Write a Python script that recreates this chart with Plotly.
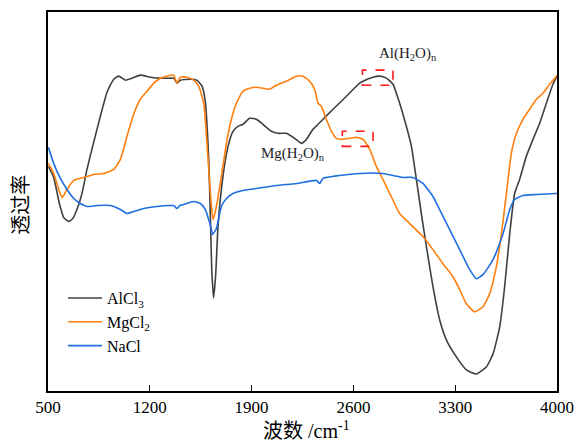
import plotly.graph_objects as go

# Wavenumber (cm^-1) and transmittance (a.u.)
alcl3_x = [503, 539, 580, 608, 642, 670, 699, 732, 768, 814, 860, 906, 952, 986, 1032, 1078, 1135, 1204, 1273, 1342,
           1364, 1387, 1410, 1479, 1524, 1559, 1582, 1605, 1617, 1626, 1639, 1653, 1669, 1703, 1738, 1772, 1806, 1841,
           1887, 1933, 1978, 2036, 2081, 2139, 2196, 2242, 2277, 2322, 2357, 2391, 2460, 2552, 2643, 2666, 2735, 2781,
           2827, 2872, 2918, 2964, 2999, 3033, 3067, 3102, 3147, 3193, 3239, 3308, 3377, 3446, 3514, 3560, 3606, 3640,
           3675, 3709, 3743, 3789, 3835, 3881, 3927, 3972, 4000]
alcl3_y = [224, 213, 186, 173, 169, 172, 181, 196, 221, 248, 274, 298, 311, 314, 310, 312, 315, 313, 312, 312,
           312, 307, 310, 311, 310, 304, 288, 231, 171, 121, 93, 116, 164, 214, 244, 259, 264, 266,
           272, 271, 266, 259, 257, 257, 252, 247, 251, 261, 266, 271, 281, 294, 307, 309, 313, 314,
           312, 306, 287, 264, 244, 211, 177, 144, 104, 71, 51, 34, 21, 17, 24, 37, 64, 104,
           157, 197, 211, 234, 251, 267, 287, 306, 314]

mgcl2_x = [503, 539, 574, 596, 608, 631, 677, 745, 814, 883, 952, 998, 1043, 1089, 1135, 1181, 1227, 1273, 1342, 1364,
           1387, 1410, 1456, 1502, 1536, 1571, 1593, 1617, 1635, 1658, 1692, 1727, 1761, 1795, 1841, 1887, 1933, 1978,
           2024, 2070, 2139, 2208, 2253, 2299, 2334, 2357, 2380, 2414, 2449, 2483, 2528, 2575, 2621, 2666, 2712, 2758,
           2803, 2850, 2918, 2987, 3078, 3147, 3216, 3285, 3331, 3377, 3434, 3491, 3537, 3583, 3618, 3652, 3686, 3721,
           3766, 3812, 3858, 3904, 3950, 3996, 4000]
mgcl2_y = [227, 217, 201, 193, 195, 201, 210, 213, 216, 217, 221, 231, 254, 276, 291, 299, 307, 312, 315, 315,
           307, 313, 313, 310, 304, 287, 247, 197, 171, 184, 214, 247, 271, 287, 299, 302, 303, 302,
           301, 305, 309, 314, 314, 309, 301, 287, 284, 271, 259, 252, 251, 252, 253, 251, 241, 224,
           211, 197, 177, 167, 154, 141, 127, 114, 101, 87, 79, 84, 97, 124, 157, 197, 237, 257,
           271, 281, 291, 297, 306, 314, 315]

nacl_x = [503, 539, 585, 631, 677, 723, 768, 837, 929, 998, 1043, 1089, 1158, 1249, 1342, 1364, 1387, 1406, 1433, 1502,
          1548, 1582, 1605, 1624, 1630, 1658, 1692, 1727, 1772, 1841, 1933, 2070, 2208, 2346, 2368, 2391, 2506, 2643,
          2803, 2872, 2941, 3010, 3078, 3147, 3193, 3262, 3331, 3400, 3446, 3491, 3560, 3629, 3675, 3709, 3766, 3858,
          4000]
nacl_y = [243, 227, 212, 201, 192, 187, 184, 185, 185, 181, 177, 179, 182, 184, 185, 185, 182, 185, 186, 189,
          187, 181, 171, 161, 156, 162, 184, 192, 197, 200, 202, 205, 207, 210, 207, 212, 215, 217,
          217, 215, 213, 213, 207, 194, 181, 161, 141, 121, 112, 116, 131, 157, 181, 191, 195, 196,
          197]

series_names = ["AlCl<sub>3</sub>", "MgCl<sub>2</sub>", "NaCl"]
series_colors = ["#404040", "#ff7f0e", "#1f6fe0"]
x_ticks = [500, 1200, 1900, 2600, 3300, 4000]

# annotation boxes (x0, x1, y0, y1) and labels
box_al = [2662, 2872, 305, 320]
box_mg = [2524, 2735, 244, 259]
label_al = ["Al(H<sub>2</sub>O)<sub>n</sub>", 2973, 336]
label_mg = ["Mg(H<sub>2</sub>O)<sub>n</sub>", 2183, 236]

serif = "Liberation Serif, Times New Roman, Noto Sans CJK SC"

fig = go.Figure()
for xs, ys, name, color in zip([alcl3_x, mgcl2_x, nacl_x], [alcl3_y, mgcl2_y, nacl_y], series_names, series_colors):
    fig.add_trace(go.Scatter(x=xs, y=ys, mode="lines", name=name,
                             line=dict(color=color, width=1.6, shape="spline", smoothing=0.5)))

for b in [box_al, box_mg]:
    fig.add_shape(type="rect", xref="x", yref="y", x0=b[0], x1=b[1], y0=b[2], y1=b[3],
                  line=dict(color="#ff1a1a", width=1.6, dash="dash"))

for lab in [label_al, label_mg]:
    fig.add_annotation(x=lab[1], y=lab[2], xref="x", yref="y", text=lab[0], showarrow=False,
                       font=dict(family=serif, size=15, color="#222222"))

# axis titles as annotations for exact placement
fig.add_annotation(x=0.508, y=-0.066, xref="paper", yref="paper", xanchor="center", yanchor="top",
                   text="波数 /cm<sup>-1</sup>", showarrow=False,
                   font=dict(family=serif, size=20, color="black"))
fig.add_annotation(x=-0.052, y=0.49, xref="paper", yref="paper", xanchor="center", yanchor="middle",
                   text="透过率", textangle=-90, showarrow=False,
                   font=dict(family=serif, size=20, color="black"))

fig.update_layout(
    width=579, height=444,
    margin=dict(l=48, r=22, t=12, b=53, autoexpand=False),
    paper_bgcolor="white", plot_bgcolor="white",
    font=dict(family=serif, size=16, color="black"),
    showlegend=True,
    legend=dict(x=0.0295, y=0.29, xanchor="left", yanchor="top", bgcolor="rgba(0,0,0,0)",
                itemwidth=34, font=dict(family=serif, size=16, color="black"), tracegroupgap=0),
    xaxis=dict(range=[500, 4000], tickvals=x_ticks, ticktext=[str(t) for t in x_ticks],
               ticks="inside", ticklen=6, tickwidth=1.2, tickcolor="black",
               showline=True, linecolor="black", linewidth=1.5, mirror=True,
               showgrid=False, zeroline=False, automargin=False,
               tickfont=dict(family=serif, size=17, color="black")),
    yaxis=dict(range=[0, 378], showticklabels=False, ticks="",
               showline=True, linecolor="black", linewidth=1.5, mirror=True,
               showgrid=False, zeroline=False, automargin=False),
)

fig.write_html("out.html", config={"displayModeBar": False},
               post_script="document.body.style.margin='0';document.body.style.overflow='hidden';")
